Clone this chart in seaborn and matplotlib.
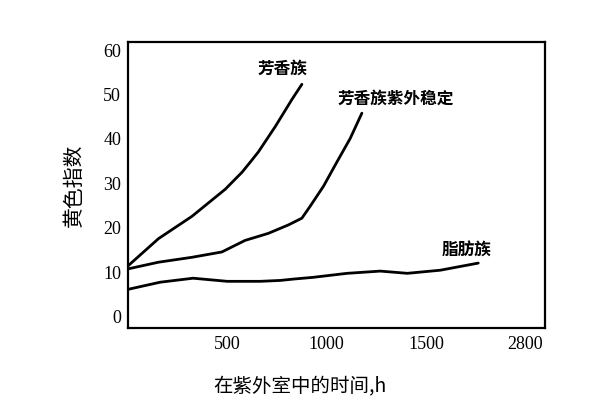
import numpy as np
import pandas as pd
import seaborn as sns
import matplotlib.pyplot as plt

# Data (time in h, yellowness index)
aro_x = [0, 153, 321, 489, 573, 615, 656, 741, 825, 875]
aro_y = [11.5, 17.6, 22.6, 28.7, 32.5, 34.8, 37.1, 42.8, 48.9, 52.3]

aro_uv_x = [0, 153, 321, 472, 589, 707, 808, 875, 917, 984, 1051, 1118, 1177]
aro_uv_y = [10.8, 12.3, 13.4, 14.6, 17.2, 18.8, 20.7, 22.2, 24.9, 29.4, 34.8, 40.1, 45.8]

ali_x = [0, 161, 327, 499, 665, 766, 831, 932, 1103, 1270, 1406, 1572, 1763]
ali_y = [6.2, 7.8, 8.7, 8.0, 8.0, 8.2, 8.5, 8.9, 9.8, 10.3, 9.8, 10.5, 12.1]

series_names = ["芳香族", "芳香族紫外稳定", "脂肪族"]
label_pos_x = [776, 1345, 1703]
label_pos_y = [55.8, 49.0, 14.9]

x_ticks = [500, 1000, 1500, 2000]
x_tick_labels = ["500", "1000", "1500", "2800"]
y_ticks = [0, 10, 20, 30, 40, 50, 60]

df = pd.concat([
    pd.DataFrame({"t": aro_x, "y": aro_y, "s": series_names[0]}),
    pd.DataFrame({"t": aro_uv_x, "y": aro_uv_y, "s": series_names[1]}),
    pd.DataFrame({"t": ali_x, "y": ali_y, "s": series_names[2]}),
])

sns.set_theme(style="white")
plt.rcParams['font.family'] = ['Noto Sans CJK SC', 'DejaVu Sans']

fig = plt.figure(figsize=(6.16, 4.08), dpi=100)
ax = fig.add_axes([0.208, 0.196, 0.677, 0.701])

sns.lineplot(data=df, x="t", y="y", units="s", estimator=None, sort=False,
             color="black", linewidth=2.0, ax=ax, legend=False)

ax.set_xlim(0, 2100)
ax.set_ylim(-2.5, 61.8)
ax.set_xticks(x_ticks)
ax.set_xticklabels(x_tick_labels, fontfamily="Liberation Serif", fontsize=13)
ax.set_yticks(y_ticks)
ax.set_yticklabels([str(v) for v in y_ticks], fontfamily="Liberation Serif", fontsize=13)
ax.tick_params(axis="both", length=0, colors="black")
ax.tick_params(axis="y", pad=5)
ax.tick_params(axis="x", pad=6)

for sp in ax.spines.values():
    sp.set_visible(True)
    sp.set_color("black")
    sp.set_linewidth(1.6)

for name, lx, ly in zip(series_names, label_pos_x, label_pos_y):
    ax.text(lx, ly, name, ha="center", va="center", fontsize=12, fontweight="bold", color="black")

ax.set_xlabel("在紫外室中的时间,h", fontsize=14, color="black")
ax.xaxis.set_label_coords(0.413, -0.17)
ax.set_ylabel("黄色指数", fontsize=15, color="black")
ax.yaxis.set_label_coords(-0.103, 0.5)

fig.savefig("out.png", dpi=100, facecolor="white")
